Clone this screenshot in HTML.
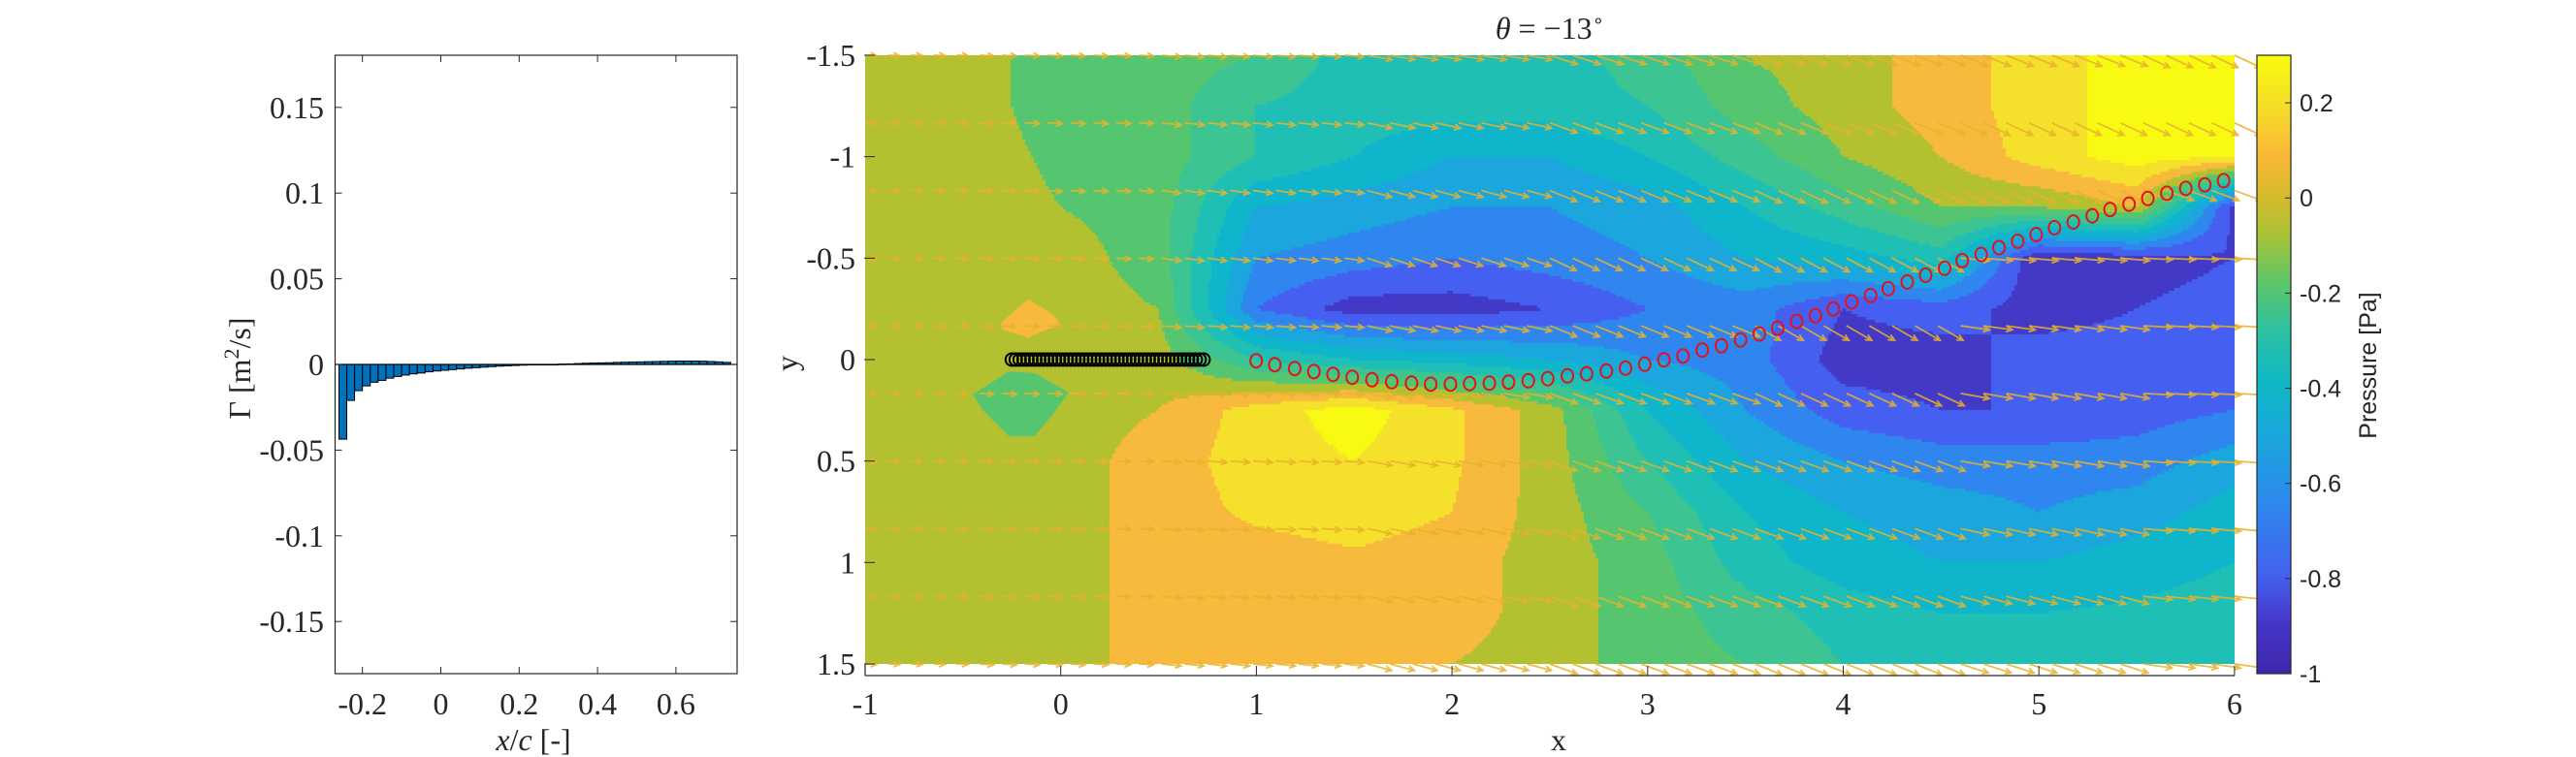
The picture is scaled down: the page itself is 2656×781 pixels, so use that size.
<!DOCTYPE html>
<html><head><meta charset="utf-8">
<style>
html,body{margin:0;padding:0;background:#fff;}
#root{position:relative;width:2656px;height:781px;overflow:hidden;background:#fff;}
#contour{position:absolute;left:892px;top:57px;}
svg{position:absolute;left:0;top:0;}
.serif{font-family:"Liberation Serif",serif;font-size:32px;fill:#262626;}
.sans{font-family:"Liberation Sans",sans-serif;font-size:25px;fill:#262626;}
</style></head>
<body>
<div id="root">
<canvas id="contour" width="1412" height="628"></canvas>
<svg id="svg" width="2656" height="781">
<defs>
<linearGradient id="parula" x1="0" y1="1" x2="0" y2="0">
<stop offset="0" stop-color="#3e26a8"/>
<stop offset="0.08" stop-color="#4535c8"/>
<stop offset="0.16" stop-color="#4461ef"/>
<stop offset="0.27" stop-color="#2e87ee"/>
<stop offset="0.38" stop-color="#1aa6dd"/>
<stop offset="0.47" stop-color="#0fb8c6"/>
<stop offset="0.55" stop-color="#2ac1a4"/>
<stop offset="0.63" stop-color="#5cc66a"/>
<stop offset="0.71" stop-color="#a9c236"/>
<stop offset="0.77" stop-color="#d5bb2b"/>
<stop offset="0.84" stop-color="#fbb838"/>
<stop offset="0.92" stop-color="#f4df26"/>
<stop offset="1" stop-color="#f9fb0e"/>
</linearGradient>
</defs>
<g id="left"></g>
<g id="main"></g>
<g id="cbar"></g>
</svg>
</div>
<script>
// ---------- left bar chart data ----------
const barX = [-0.25,-0.23,-0.21,-0.19,-0.17,-0.15,-0.13,-0.11,-0.09,-0.07,-0.05,-0.03,-0.01,0.01,0.03,0.05,0.07,0.09,0.11,0.13,0.15,0.17,0.19,0.21,0.23,0.25,0.27,0.29,0.31,0.33,0.35,0.37,0.39,0.41,0.43,0.45,0.47,0.49,0.51,0.53,0.55,0.57,0.59,0.61,0.63,0.65,0.67,0.69,0.71,0.73];
const barGamma = [-0.0436,-0.021,-0.0153,-0.0125,-0.0104,-0.0093,-0.008,-0.007,-0.0062,-0.0055,-0.005,-0.0043,-0.0038,-0.0034,-0.003,-0.0026,-0.0022,-0.0019,-0.0016,-0.0013,-0.001,-0.0008,-0.0006,-0.0004,-0.0003,-0.0001,0,0,0.0002,0.0003,0.0005,0.0007,0.0008,0.0009,0.001,0.0012,0.0013,0.0014,0.0015,0.0016,0.0017,0.0018,0.0019,0.002,0.002,0.002,0.0019,0.0017,0.0015,0.0012];
const leftXTicks = [-0.2,0,0.2,0.4,0.6];
const leftXTickLabels = ["-0.2","0","0.2","0.4","0.6"];
const leftYTicks = [-0.15,-0.1,-0.05,0,0.05,0.1,0.15];
const leftYTickLabels = ["-0.15","-0.1","-0.05","0","0.05","0.1","0.15"];

// ---------- main plot data ----------
const gridX = [-1,-0.5,0,0.5,1,1.5,2,2.5,3,3.5,4,4.5,5,5.5,6];
const gridY = [-1.5,-1.25,-1,-0.75,-0.5,-0.25,0,0.25,0.5,0.75,1,1.25,1.5];
const pRowM150 = [-0.05,-0.05,-0.15,-0.15,-0.2,-0.35,-0.35,-0.35,-0.25,-0.1,-0.05,0.05,0.15,0.25,0.25];
const pRowM125 = [-0.05,-0.05,-0.15,-0.15,-0.3,-0.35,-0.35,-0.35,-0.3,-0.15,-0.05,0.05,0.15,0.25,0.25];
const pRowM100 = [-0.05,-0.05,-0.12,-0.15,-0.3,-0.4,-0.5,-0.5,-0.4,-0.25,-0.1,0.0,0.15,0.25,0.2];
const pRowM075 = [-0.05,-0.05,-0.1,-0.15,-0.5,-0.55,-0.6,-0.6,-0.55,-0.4,-0.25,-0.1,-0.1,0.0,-0.85];
const pRowM050 = [-0.05,-0.05,-0.05,-0.15,-0.6,-0.65,-0.7,-0.65,-0.6,-0.5,-0.45,-0.35,-0.9,-0.85,-0.8];
const pRowM025 = [-0.05,-0.05,-0.05,-0.1,-0.7,-0.85,-0.85,-0.8,-0.7,-0.65,-0.8,-0.75,-0.85,-0.8,-0.75];
const pRow000  = [-0.05,-0.05,-0.05,-0.05,-0.3,-0.4,-0.45,-0.5,-0.6,-0.65,-0.85,-0.85,-0.75,-0.75,-0.7];
const pRowP025 = [-0.05,-0.05,-0.05,0.0,0.15,0.25,0.12,-0.05,-0.4,-0.6,-0.75,-0.8,-0.8,-0.75,-0.7];
const pRowP050 = [-0.05,-0.05,-0.05,0.05,0.15,0.2,0.12,-0.05,-0.3,-0.5,-0.6,-0.65,-0.65,-0.65,-0.55];
const pRowP075 = [-0.05,-0.05,-0.05,0.05,0.12,0.15,0.1,-0.05,-0.2,-0.4,-0.5,-0.55,-0.6,-0.55,-0.45];
const pRowP100 = [-0.05,-0.05,-0.05,0.05,0.05,0.08,0.05,-0.05,-0.15,-0.35,-0.45,-0.5,-0.5,-0.45,-0.4];
const pRowP125 = [-0.05,-0.05,-0.05,0.05,0.05,0.05,0.05,-0.05,-0.15,-0.25,-0.35,-0.4,-0.4,-0.38,-0.35];
const pRowP150 = [-0.05,-0.05,-0.05,0.05,0.05,0.05,0.0,-0.05,-0.15,-0.2,-0.3,-0.35,-0.35,-0.35,-0.35];
const pressure = [pRowM150,pRowM125,pRowM100,pRowM075,pRowM050,pRowM025,pRow000,pRowP025,pRowP050,pRowP075,pRowP100,pRowP125,pRowP150];
const levelColors = ["#3d2b9c","#4239c6","#4560f0","#2e86ee","#1ba6de","#0fb6cb","#1fbfb6","#3cc492","#55c66f","#b3c131","#f8ba3d","#f5e12b","#f9fa14"];
const orangeBlobX = [-0.307,-0.167,-0.035,-0.003,-0.068,-0.167,-0.3];
const orangeBlobY = [-0.18,-0.299,-0.22,-0.172,-0.148,-0.108,-0.148];
const greenBlobX = [-0.448,-0.266,-0.134,0.04,-0.051,-0.134,-0.266,-0.398];
const greenBlobY = [0.171,0.059,0.067,0.163,0.282,0.378,0.378,0.25];

const wakeX = [0.999,1.094,1.196,1.294,1.392,1.49,1.591,1.692,1.793,1.891,1.992,2.09,2.191,2.289,2.39,2.489,2.59,2.688,2.789,2.887,2.985,3.083,3.181,3.279,3.377,3.475,3.571,3.665,3.762,3.858,3.949,4.043,4.14,4.23,4.327,4.421,4.518,4.608,4.705,4.796,4.892,4.986,5.08,5.176,5.273,5.364,5.461,5.557,5.654,5.751,5.848,5.944];
const wakeY = [0.006,0.025,0.044,0.059,0.073,0.087,0.099,0.109,0.116,0.121,0.121,0.118,0.116,0.111,0.104,0.094,0.08,0.07,0.056,0.042,0.023,0.001,-0.018,-0.047,-0.068,-0.097,-0.126,-0.155,-0.188,-0.216,-0.25,-0.285,-0.316,-0.35,-0.383,-0.416,-0.45,-0.488,-0.518,-0.552,-0.583,-0.616,-0.65,-0.678,-0.709,-0.74,-0.766,-0.794,-0.82,-0.844,-0.861,-0.882];
const plateX = [-0.25,-0.23,-0.21,-0.19,-0.17,-0.15,-0.13,-0.11,-0.09,-0.07,-0.05,-0.03,-0.01,0.01,0.03,0.05,0.07,0.09,0.11,0.13,0.15,0.17,0.19,0.21,0.23,0.25,0.27,0.29,0.31,0.33,0.35,0.37,0.39,0.41,0.43,0.45,0.47,0.49,0.51,0.53,0.55,0.57,0.59,0.61,0.63,0.65,0.67,0.69,0.71,0.73];
const plateY = 0;

const quiverRowsY = [-1.5,-1.1667,-0.8333,-0.5,-0.1667,0.1667,0.5,0.8333,1.1667,1.5];
const quiverAngles = [
 [2,3,5,10,18,20,22,25],
 [2,3,6,12,20,22,25,25],
 [2,4,8,15,22,25,25,20],
 [2,3,8,18,25,28,5,3],
 [1,2,5,12,22,30,8,3],
 [1,2,4,10,20,25,10,3],
 [1,2,4,10,20,20,10,4],
 [1,2,4,12,20,20,12,5],
 [1,2,5,12,20,20,15,6],
 [2,3,6,15,20,22,18,8]];
const quiverLen = [12,15,20,26,30,30,30,30];

const mainXTicks = [-1,0,1,2,3,4,5,6];
const mainXTickLabels = ["-1","0","1","2","3","4","5","6"];
const mainYTicks = [-1.5,-1,-0.5,0,0.5,1,1.5];
const mainYTickLabels = ["-1.5","-1","-0.5","0","0.5","1","1.5"];
const cbarTicks = [-1,-0.8,-0.6,-0.4,-0.2,0,0.2];
const cbarTickLabels = ["-1","-0.8","-0.6","-0.4","-0.2","0","0.2"];

// ---------- helpers ----------
const NS = "http://www.w3.org/2000/svg";
function mk(parent, tag, attrs, text){
  const e = document.createElementNS(NS, tag);
  for (const k in attrs) e.setAttribute(k, attrs[k]);
  if (text !== undefined) e.textContent = text;
  parent.appendChild(e);
  return e;
}
const L = {x0:345.5, x1:760, y0:57, y1:695};
const lx = v => 454.5 + v*404;
const ly = v => 376 - v*1768;
const M = {x0:892, x1:2304, y0:57, y1:697};
const mx = v => 892 + (v+1)*201.7;
const my = v => 57 + (v+1.5)*209.33;
const C = {x0:2327, x1:2362, y0:57, y1:695};
const cy = v => 695 - (v+1)/1.3*638;

// ---------- left chart ----------
const gl = document.getElementById('left');
mk(gl,'rect',{x:L.x0,y:L.y0,width:L.x1-L.x0,height:L.y1-L.y0,fill:'#fff'});
for (let i=0;i<barX.length;i++){
  const v = barGamma[i];
  const y0 = ly(0), y1 = ly(v);
  const r = mk(gl,'rect',{x:lx(barX[i])-4,y:Math.min(y0,y1),width:8,height:Math.max(0.5,Math.abs(y1-y0)),fill:'#0072bd',stroke:'#000','stroke-width':1});
  
  
}
mk(gl,'line',{x1:L.x0,x2:L.x1,y1:ly(0),y2:ly(0),stroke:'#000','stroke-width':1.2,});
for (let i=0;i<leftXTicks.length;i++){
  const x = lx(leftXTicks[i]);
  mk(gl,'line',{x1:x,x2:x,y1:L.y1,y2:L.y1-7,stroke:'#262626','stroke-width':1});
  mk(gl,'line',{x1:x,x2:x,y1:L.y0,y2:L.y0+7,stroke:'#262626','stroke-width':1});
  const t = mk(gl,'text',{x:x,y:737,'text-anchor':'middle',class:'serif'},leftXTickLabels[i]);
  
  
}
for (let i=0;i<leftYTicks.length;i++){
  const y = ly(leftYTicks[i]);
  mk(gl,'line',{x1:L.x0,x2:L.x0+7,y1:y,y2:y,stroke:'#262626','stroke-width':1});
  mk(gl,'line',{x1:L.x1,x2:L.x1-7,y1:y,y2:y,stroke:'#262626','stroke-width':1});
  const t = mk(gl,'text',{x:334,y:y+11,'text-anchor':'end',class:'serif'},leftYTickLabels[i]);
  
  
}
mk(gl,'rect',{x:L.x0,y:L.y0,width:L.x1-L.x0,height:L.y1-L.y0,fill:'none',stroke:'#262626','stroke-width':1.2,});
const ylab = mk(gl,'text',{x:0,y:0,transform:'translate(258,380) rotate(-90)','text-anchor':'middle',class:'serif'});


ylab.innerHTML = 'Γ [m<tspan dy="-12" font-size="22">2</tspan><tspan dy="12">/s]</tspan>';
const xlab = mk(gl,'text',{x:550,y:774,'text-anchor':'middle',class:'serif'});


xlab.innerHTML = '<tspan font-style="italic">x</tspan>/<tspan font-style="italic">c</tspan> [-]';

// ---------- contour ----------
const cv = document.getElementById('contour');
const ctx = cv.getContext('2d');
function sampleP(x,y){
  let i = Math.floor((x-gridX[0])/0.5); i = Math.max(0,Math.min(gridX.length-2,i));
  let j = Math.floor((y-gridY[0])/0.25); j = Math.max(0,Math.min(gridY.length-2,j));
  const tx = (x-gridX[i])/0.5, ty = (y-gridY[j])/0.25;
  const a = pressure[j][i], b = pressure[j][i+1], c = pressure[j+1][i], d = pressure[j+1][i+1];
  return a*(1-tx)*(1-ty)+b*tx*(1-ty)+c*(1-tx)*ty+d*tx*ty;
}
const cell = 3;
for (let py=0; py<628; py+=cell){
  for (let px=0; px<1412; px+=cell){
    const x = -1 + (px+cell/2)/201.7;
    const y = -1.5 + (py+cell/2)/209.33;
    const p = sampleP(x,y);
    let k = Math.floor((p+1)/0.1); k = Math.max(0,Math.min(12,k));
    ctx.fillStyle = levelColors[k];
    ctx.fillRect(px,py,cell,cell);
  }
}
function blob(xs,ys,color){
  ctx.fillStyle = color;
  ctx.beginPath();
  for (let i=0;i<xs.length;i++){
    const px = mx(xs[i])-892, py = my(ys[i])-57;
    if(i===0) ctx.moveTo(px,py); else ctx.lineTo(px,py);
  }
  ctx.closePath(); ctx.fill();
}
blob(orangeBlobX,orangeBlobY,levelColors[10]);
blob(greenBlobX,greenBlobY,levelColors[8]);

// ---------- main overlay ----------
const gm = document.getElementById('main');
const gq = mk(gm,'g',{});
for (let r=0;r<quiverRowsY.length;r++){
  for (let c=0;c<=60;c++){
    const x = -1 + c*7/60;
    const ix = Math.max(0,Math.min(7,Math.round(x+1)));
    const ang = quiverAngles[r][ix]*Math.PI/180;
    const len = quiverLen[ix];
    const x0 = mx(x), y0 = my(quiverRowsY[r]);
    const x1 = x0 + len*Math.cos(ang), y1 = y0 + len*Math.sin(ang);
    const h = 7, ha = 0.45;
    const d = 'M'+x0+','+y0+'L'+x1+','+y1+
      'M'+(x1-h*Math.cos(ang-ha))+','+(y1-h*Math.sin(ang-ha))+'L'+x1+','+y1+
      'L'+(x1-h*Math.cos(ang+ha))+','+(y1-h*Math.sin(ang+ha));
    const a = mk(gq,'path',{d:d,stroke:'#e8b22c','stroke-width':1.8,fill:'none','stroke-opacity':0.85});
    
    
  }
}
for (let i=0;i<plateX.length;i++){
  const c = mk(gm,'circle',{cx:mx(plateX[i]),cy:my(plateY),r:6.5,fill:'none',stroke:'#000','stroke-width':2});
  
  
}
for (let i=0;i<wakeX.length;i++){
  const c = mk(gm,'ellipse',{cx:mx(wakeX[i]),cy:my(wakeY[i]),rx:6,ry:7,fill:'none',stroke:'#e3121a','stroke-width':2});
  
  
}
mk(gm,'line',{x1:M.x0,x2:M.x1,y1:M.y1,y2:M.y1,stroke:'#262626','stroke-width':1.2,});
mk(gm,'line',{x1:M.x0,x2:M.x0,y1:685,y2:M.y1,stroke:'#262626','stroke-width':1.2});
for (let i=0;i<mainXTicks.length;i++){
  const x = mx(mainXTicks[i]);
  mk(gm,'line',{x1:x,x2:x,y1:M.y1,y2:M.y1-10,stroke:'#262626','stroke-width':1});
  const t = mk(gm,'text',{x:x,y:737,'text-anchor':'middle',class:'serif'},mainXTickLabels[i]);
  
  
}
for (let i=0;i<mainYTicks.length;i++){
  const y = my(mainYTicks[i]);
  mk(gm,'line',{x1:M.x0-1,x2:M.x0+10,y1:y,y2:y,stroke:'#262626','stroke-width':1});
  const t = mk(gm,'text',{x:882,y:y+11,'text-anchor':'end',class:'serif'},mainYTickLabels[i]);
  
  
}
const mxl = mk(gm,'text',{x:1607,y:774,'text-anchor':'middle',class:'serif'},'x');


const myl = mk(gm,'text',{x:0,y:0,transform:'translate(822,375) rotate(-90)','text-anchor':'middle',class:'serif'},'y');


const ttl = mk(gm,'text',{x:1598,y:40,'text-anchor':'middle',class:'serif'});


ttl.innerHTML = '<tspan font-style="italic">θ</tspan> = −13<tspan dy="-12" font-size="20">∘</tspan>';

// ---------- colorbar ----------
const gc = document.getElementById('cbar');
mk(gc,'rect',{x:C.x0,y:C.y0,width:C.x1-C.x0,height:C.y1-C.y0,fill:'url(#parula)',stroke:'#262626','stroke-width':1.2,});
for (let i=0;i<cbarTicks.length;i++){
  const y = cy(cbarTicks[i]);
  mk(gc,'line',{x1:C.x1,x2:C.x1-6,y1:y,y2:y,stroke:'#262626','stroke-width':1});
  const t = mk(gc,'text',{x:2371,y:y+9,class:'sans'},cbarTickLabels[i]);
  
  
}
const cbl = mk(gc,'text',{x:0,y:0,transform:'translate(2450,377) rotate(-90)','text-anchor':'middle',class:'sans'},'Pressure [Pa]');


</script>
</body></html>
